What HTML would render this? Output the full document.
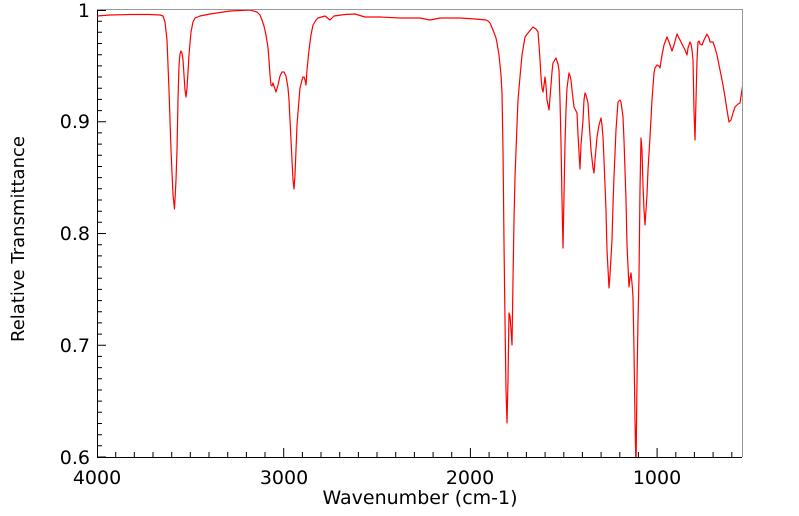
<!DOCTYPE html>
<html><head><meta charset="utf-8"><style>
body{margin:0;background:#fff;}
svg{display:block;font-family:"DejaVu Sans","Liberation Sans",sans-serif;}
</style></head><body>
<svg width="799" height="516" viewBox="0 0 799 516">
<defs><clipPath id="c"><rect x="97" y="10" width="645" height="447"/></clipPath></defs>
<path d="M97 9.5 H742.5 V457" fill="none" stroke="#999" stroke-width="1"/>
<path d="M97.5 10 V457.5 H742" fill="none" stroke="#000" stroke-width="1"/>
<path stroke="#000" stroke-width="1" fill="none" d="
M97.5 457V448 M115.7 457V452 M134.3 457V452 M153 457V452 M171.7 457V452 M190.3 457V452 M209 457V452 M227.7 457V452 M246.4 457V452 M265 457V452
M283.7 457V448 M302.4 457V452 M321 457V452 M339.7 457V452 M358.4 457V452 M377 457V452 M395.7 457V452 M414.4 457V452 M433.1 457V452 M451.7 457V452
M470.4 457V448 M489.1 457V452 M507.7 457V452 M526.4 457V452 M545.1 457V452 M563.8 457V452 M582.4 457V452 M601.1 457V452 M619.8 457V452 M638.4 457V452
M657.1 457V448 M675.8 457V452 M694.4 457V452 M713.1 457V452 M731.8 457V452
M97 457H106 M97 445.8H102 M97 434.7H102 M97 423.5H102 M97 412.3H102 M97 401.1H102 M97 390H102 M97 378.8H102 M97 367.6H102 M97 356.4H102
M97 345.25H106 M97 334.1H102 M97 322.9H102 M97 311.7H102 M97 300.6H102 M97 289.4H102 M97 278.2H102 M97 267H102 M97 255.9H102 M97 244.7H102
M97 233.5H106 M97 222.3H102 M97 211.2H102 M97 200H102 M97 188.8H102 M97 177.6H102 M97 166.5H102 M97 155.3H102 M97 144.1H102 M97 132.9H102
M97 121.75H106 M97 110.6H102 M97 99.4H102 M97 88.2H102 M97 77H102 M97 65.9H102 M97 54.7H102 M97 43.5H102 M97 32.3H102 M97 21.2H102 M97 10.5H106"/>
<g clip-path="url(#c)">
<polyline fill="none" stroke="#ff0000" stroke-width="1.2" stroke-linejoin="round" points="97,16 110,15 130,14.5 150,14.5 160,15 163,16 165,22 167,40 169,90 171,150 173,195 174.5,209 176,180 177,150 178,100 179,65 180,54 181,51 182,53 183,60 184,75 185,90 186,97 187,88 188,72 189,55 191,32 193,22 195,18 200,16 210,14 230,11 250,10 257,12 260,15 262,20 264,26 266,35 268,48 269,60 270,75 271,85 272,86 273,83 274,86 276,92 278,85 280,76 282,72 284,72 286,76 288,88 289,100 290,120 291,140 292,160 293,180 294,189 295,175 296,150 297,125 299,100 300,88 302,80 303,77 304,77 305,80 306,85 307,70 309,50 311,35 313,25 316,20 318,18 325,16 330,20 334,16 345,14.5 355,14 365,17 380,17 400,18 420,18 430,20 440,18 460,18 475,19 486,20 488,21 490,23 493,30 496,38 497,43 499,55 501,75 502,93 503,150 504,243 505,320 506,390 507,423 508,380 509,313 510,316 511,330 512,345 513,280 514,220 515,177 517,125 518,100 520,77 522,55 525,37 528,33 533,27 536,29 538,32 539,45 540,60 541,77 542,88 543,92 544,85 545,77 546,86 547,100 549,110 551,85 552,72 553,63 556,58 558,64 559,70 560,100 561,143 562,200 563,248 564,195 565,143 566,110 567,88 569,73 570,76 571,80 572,90 574,107 577,113 578,135 580,169 581,145 583,120 584,100 585,93 586,95 588,103 589,120 591,150 593,168 594,173 595,160 597,137 599,125 601,118 602,125 603,137 604,160 606,210 607,250 609,288 610,275 612,240 613,205 614,177 616,130 618,102 620,100 621,102 623,117 624,140 626,200 627,245 629,287 630,278 631,273 632,283 633,297 634,350 635,420 636,470 637,380 638,320 639,277 640,190 641,138 642,150 643,185 644,210 645,225 647,195 648,170 650,137 652,100 654,73 655,68 657,65 659,66 660,68 662,55 664,45 667,37 669,42 672,51 674,45 677,34 679,38 682,44 685,50 687,55 688,48 690,42 691,44 692,50 693,60 694,110 695,140 696,100 697,60 698,42 699,41 700,44 702,45 704,40 707,34 709,38 710,42 713,42 715,48 717,55 720,70 723,85 725,97 727,110 729,122 731,120 733,113 735,107 738,104 740,103 742,90 743,83"/>
</g>
<g font-size="19" fill="#000">
<text x="97" y="484" text-anchor="middle">4000</text>
<text x="284" y="484" text-anchor="middle">3000</text>
<text x="470" y="484" text-anchor="middle">2000</text>
<text x="657" y="484" text-anchor="middle">1000</text>
<text x="90" y="17" text-anchor="end">1</text>
<text x="90" y="128" text-anchor="end">0.9</text>
<text x="90" y="240" text-anchor="end">0.8</text>
<text x="90" y="352" text-anchor="end">0.7</text>
<text x="90" y="464" text-anchor="end">0.6</text>
<text x="420" y="504" text-anchor="middle">Wavenumber (cm-1)</text>
<text transform="translate(24,239) rotate(-90)" text-anchor="middle" font-size="18">Relative Transmittance</text>
</g>
</svg>
</body></html>
